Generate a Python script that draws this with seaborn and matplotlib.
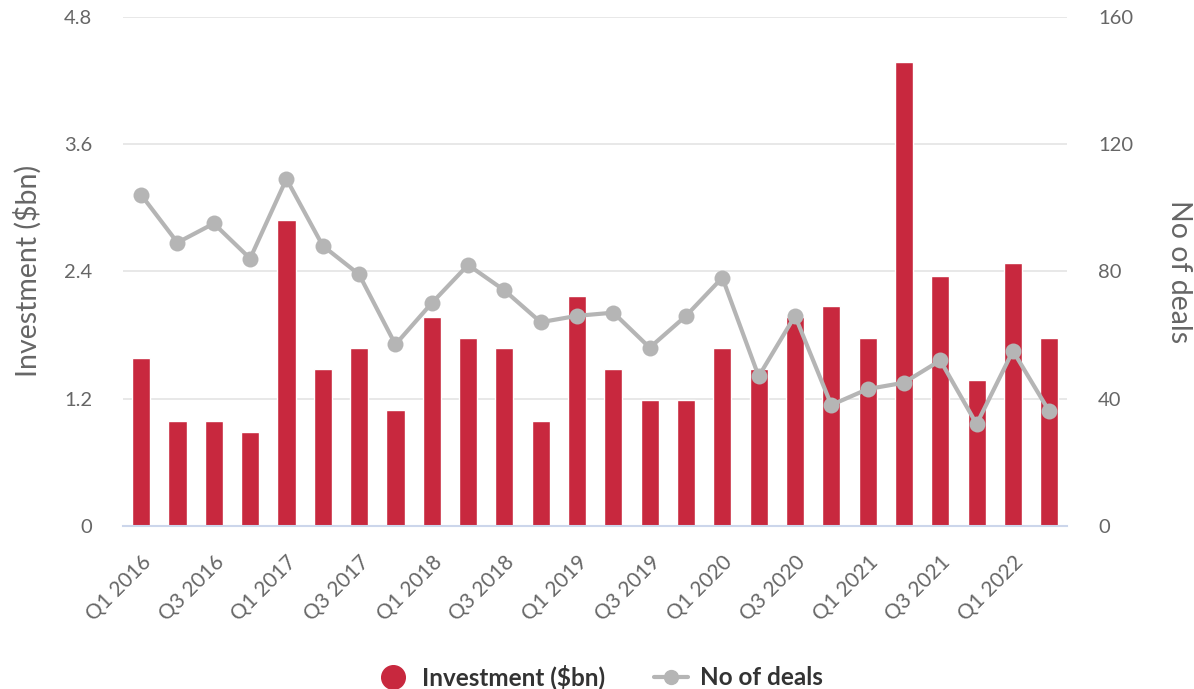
import numpy as np
import matplotlib
matplotlib.use("Agg")
import matplotlib.pyplot as plt
from matplotlib.lines import Line2D
import seaborn as sns

# quarterly data
quarters = ["Q1 2016", "Q2 2016", "Q3 2016", "Q4 2016",
            "Q1 2017", "Q2 2017", "Q3 2017", "Q4 2017",
            "Q1 2018", "Q2 2018", "Q3 2018", "Q4 2018",
            "Q1 2019", "Q2 2019", "Q3 2019", "Q4 2019",
            "Q1 2020", "Q2 2020", "Q3 2020", "Q4 2020",
            "Q1 2021", "Q2 2021", "Q3 2021", "Q4 2021",
            "Q1 2022", "Q2 2022"]
investment = [1.58, 0.99, 0.99, 0.89, 2.88, 1.48, 1.68, 1.09,
              1.97, 1.77, 1.68, 0.99, 2.17, 1.48, 1.19, 1.19,
              1.68, 1.48, 1.97, 2.07, 1.77, 4.37, 2.36, 1.38,
              2.48, 1.77]
deals = [104, 89, 95, 84, 109, 88, 79, 57,
         70, 82, 74, 64, 66, 67, 56, 66,
         78, 47, 66, 38, 43, 45, 52, 32,
         55, 36]

left_ticks = [0, 1.2, 2.4, 3.6, 4.8]
left_labels = ["0", "1.2", "2.4", "3.6", "4.8"]
right_ticks = [0, 40, 80, 120, 160]

red = "#c8283e"
gray = "#b5b5b5"
text_c = "#666666"
grid_c = "#e6e6e6"
axis_c = "#ccd6eb"

sns.set_style("white")
plt.rcParams['font.family'] = ['Lato', 'DejaVu Sans']

fig, ax = plt.subplots(figsize=(11.94, 6.89), dpi=100)
fig.subplots_adjust(left=0.103, right=0.894, top=0.976, bottom=0.2366)

sns.barplot(x=quarters, y=investment, color=red, saturation=1, width=0.5,
            edgecolor="white", linewidth=1, ax=ax)

ax2 = ax.twinx()
sns.lineplot(x=np.arange(len(quarters)), y=deals, ax=ax2, color=gray,
             linewidth=3, marker="o", markersize=11.5, markeredgewidth=0)

ax.set_xlim(-0.5, len(quarters) - 0.5)
ax.set_ylim(0, 4.8)
ax2.set_ylim(0, 160)

ax.set_xticks(range(0, len(quarters), 2))
ax.set_xticklabels(quarters[::2], rotation=45, ha="right", va="top",
                   rotation_mode="anchor")
ax.set_yticks(left_ticks)
ax.set_yticklabels(left_labels)
ax2.set_yticks(right_ticks)

ax.tick_params(axis="x", length=14, color=axis_c, width=1.3, labelsize=15,
               labelcolor=text_c, pad=5)
ax.tick_params(axis="y", length=0, labelsize=14.5, labelcolor=text_c, pad=22)
ax2.tick_params(axis="y", length=0, labelsize=14.5, labelcolor=text_c, pad=22)

for s in ["left", "right", "top"]:
    ax.spines[s].set_visible(False)
for s in ax2.spines:
    ax2.spines[s].set_visible(False)
ax.spines["bottom"].set_color(axis_c)
ax.spines["bottom"].set_linewidth(1.5)

ax.yaxis.grid(True, color=grid_c, linewidth=1.3)
ax.set_axisbelow(True)
ax2.grid(False)

ax.set_xlabel("")
ax.set_ylabel("Investment ($bn)", fontsize=20.5, color=text_c, labelpad=16)
ax2.set_ylabel("No of deals", fontsize=20.5, color=text_c, rotation=270,
               va="bottom", labelpad=24)

handles = [
    Line2D([], [], marker="o", color=red, linestyle="none", markersize=17),
    Line2D([], [], color=gray, linewidth=3, marker="o", markersize=10),
]
fig.legend(handles, ["Investment ($bn)", "No of deals"], loc="center",
           bbox_to_anchor=(0.502, 1 - 677 / 689), ncol=2, frameon=False,
           prop=dict(weight="bold", size=17.5), handlelength=1.4,
           columnspacing=2.0, handletextpad=0.5, labelcolor="#333333")

fig.savefig("out.png", dpi=100)
